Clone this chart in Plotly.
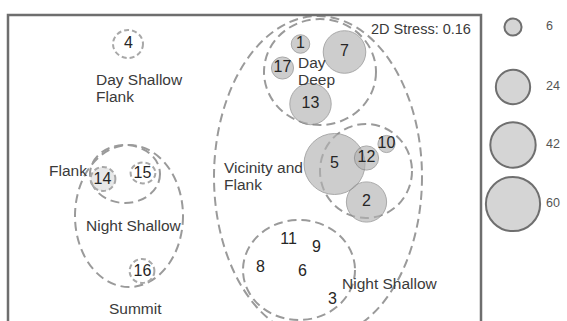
import math
import plotly.graph_objects as go

# Site scores on the two ordination axes and mean abundance per site
sites = ["1", "2", "3", "4", "5", "6", "7", "8", "9", "10",
         "11", "12", "13", "14", "15", "16", "17"]
nmds1 = [0.28, 0.61, 0.44, -0.58, 0.45, 0.29, 0.50, 0.08, 0.36, 0.71,
         0.22, 0.61, 0.33, -0.71, -0.51, -0.51, 0.19]
nmds2 = [0.62, -0.17, -0.66, 0.62, 0.02, -0.52, 0.58, -0.50, -0.40, 0.12,
         -0.36, 0.05, 0.32, -0.06, -0.03, -0.52, 0.50]
abundance = [7, 33, 0, 0, 76, 0, 37, 0, 0, 6,
             0, 12, 35, 0, 0, 0, 10]

# Bubble size key
key_values = [6, 24, 42, 60]
key_labels = ["6", "24", "42", "60"]

stress_label = "2D Stress: 0.16"

# Grouping ellipses: centre x, centre y, half-width, half-height
groups = {
    "Vicinity and Flank": (0.3675, -0.045, 0.52, 0.805),
    "Day Deep": (0.3775, 0.48, 0.28, 0.265),
    "Vicinity core": (0.6075, -0.015, 0.23, 0.235),
    "Night Shallow (vicinity)": (0.2725, -0.51, 0.28, 0.25),
    "Night Shallow (summit)": (-0.5775, -0.24, 0.27, 0.355),
    "Flank": (-0.5975, -0.03, 0.175, 0.145),
}
single_rings = {
    "4": (-0.5825, 0.62, 0.075, 0.07),
    "14": (-0.7075, -0.055, 0.062, 0.06),
    "15": (-0.5075, -0.025, 0.062, 0.052),
    "16": (-0.5125, -0.515, 0.062, 0.06),
}

FONT = "Arial, Liberation Sans, sans-serif"
PX_PER_ROOT = 7.0   # bubble diameter per sqrt(abundance)

fig = go.Figure()

# group outlines underneath the bubbles
shapes = []
for name, (cx, cy, rx, ry) in groups.items():
    shapes.append(dict(type="circle", xref="x", yref="y", layer="below",
                       x0=cx - rx, x1=cx + rx, y0=cy - ry, y1=cy + ry,
                       line=dict(color="#9a9a9a", width=2, dash="9px,5px")))
for name, (cx, cy, rx, ry) in single_rings.items():
    shapes.append(dict(type="circle", xref="x", yref="y", layer="below",
                       x0=cx - rx, x1=cx + rx, y0=cy - ry, y1=cy + ry,
                       fillcolor="rgba(205,205,205,0.45)" if name == "14" else "rgba(0,0,0,0)",
                       line=dict(color="#a8a8a8", width=2, dash="5px,3px")))

# open frame (bottom edge runs off the page)
shapes.append(dict(type="path", xref="x domain", yref="y domain",
                   path="M 0,-0.2 L 0,1 L 1,1 L 1,-0.2",
                   line=dict(color="#6e6e6e", width=2.5)))

# abundance bubbles
bx = [x for x, v in zip(nmds1, abundance) if v > 0]
by = [y for y, v in zip(nmds2, abundance) if v > 0]
bs = [PX_PER_ROOT * math.sqrt(v) for v in abundance if v > 0]
fig.add_trace(go.Scatter(
    x=bx, y=by, mode="markers", hoverinfo="skip",
    marker=dict(size=bs, sizemode="diameter", color="rgba(178,178,178,0.92)",
                line=dict(color="rgba(125,125,125,0.9)", width=1)),
))

# site numbers
fig.add_trace(go.Scatter(
    x=nmds1, y=nmds2, mode="text", text=sites, textposition="middle center",
    textfont=dict(family=FONT, size=16, color="#262626"), hoverinfo="skip",
))

# size key on its own axis to the right of the frame
key_y = [0.705, 0.405, 0.115, -0.18]
fig.add_trace(go.Scatter(
    x=[32] * len(key_values), y=key_y, xaxis="x2", yaxis="y",
    mode="markers", hoverinfo="skip",
    marker=dict(size=[PX_PER_ROOT * math.sqrt(v) for v in key_values],
                sizemode="diameter", color="#c4c4c4",
                line=dict(color="#333333", width=2)),
))
fig.add_trace(go.Scatter(
    x=[65] * len(key_values), y=key_y, xaxis="x2", yaxis="y",
    mode="text", text=key_labels, textposition="middle right",
    textfont=dict(family=FONT, size=12.5, color="#555555"), hoverinfo="skip",
))

# group names, one annotation per line
group_text = [
    ("Day Shallow", -0.7525, 0.445, "left"),
    ("Flank", -0.7525, 0.36, "left"),
    ("Day", 0.2575, 0.53, "left"),
    ("Deep", 0.2575, 0.445, "left"),
    ("Vicinity and", -0.1125, 0.005, "left"),
    ("Flank", -0.1125, -0.08, "left"),
    ("Flank", -0.9875, -0.01, "left"),
    ("Night Shallow", -0.5525, -0.285, "center"),
    ("Summit", -0.545, -0.70, "center"),
    ("Night Shallow", 0.4775, -0.575, "left"),
]
annotations = [dict(text=t, x=x, y=y, xref="x", yref="y", xanchor=a,
                    yanchor="middle", showarrow=False,
                    font=dict(family=FONT, size=15.5, color="#3a3a3a"))
               for t, x, y, a in group_text]
annotations.append(dict(text=stress_label, x=1.1425, y=0.695, xref="x", yref="y",
                        xanchor="right", yanchor="middle", showarrow=False,
                        font=dict(family=FONT, size=14.5, color="#3a3a3a")))
annotations.append(dict(text="<b>Ecology Group</b>", x=0.0, y=1.045,
                        xref="paper", yref="paper", xanchor="left", yanchor="bottom",
                        showarrow=False, font=dict(family=FONT, size=16, color="#222222")))

DOM = 473 / 559
fig.update_layout(
    width=567, height=321,
    margin=dict(l=8, r=0, t=15, b=0),
    paper_bgcolor="white", plot_bgcolor="white",
    showlegend=False,
    shapes=shapes, annotations=annotations,
    xaxis=dict(domain=[0, DOM], range=[-1.1825, 1.1825], visible=False, fixedrange=True),
    xaxis2=dict(domain=[DOM, 1], range=[0, 86], visible=False, anchor="y", fixedrange=True),
    yaxis=dict(range=[-0.765, 0.765], visible=False, fixedrange=True),
)

fig.write_html("out.html")
